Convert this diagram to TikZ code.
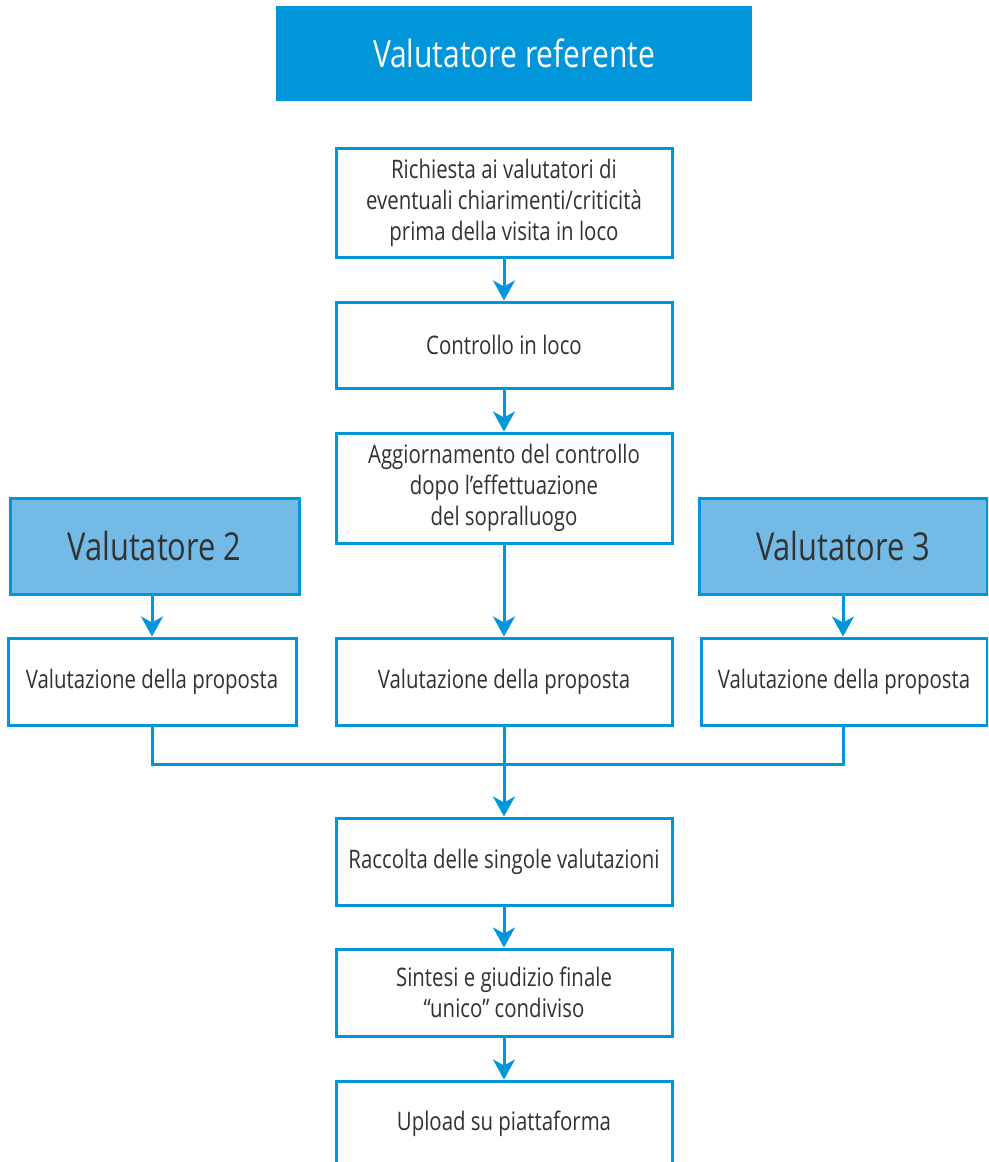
\documentclass[tikz,border=0pt]{standalone}
\usepackage{fontspec}
\setmainfont{Open Sans}[FakeStretch=0.80]
\usetikzlibrary{arrows.meta}
\definecolor{flowblue}{RGB}{0,150,217}
\definecolor{lightblue}{RGB}{115,187,230}
\definecolor{inkgray}{RGB}{50,50,50}
\tikzset{
  stepbox/.style={draw=flowblue, line width=3pt, fill=white, rectangle,
    inner sep=0pt, align=center, text=inkgray,
    font=\fontsize{25.5}{31}\selectfont},
  rolebox/.style={draw=flowblue, line width=3pt, fill=lightblue, rectangle,
    inner sep=0pt, align=center, text=inkgray,
    font=\fontsize{38.5}{46}\selectfont},
  headbox/.style={fill=flowblue, rectangle, inner sep=0pt, align=center,
    text=white, font=\fontsize{37.5}{46}\selectfont},
  flow/.style={draw=flowblue, line width=3pt,
    -{Stealth[length=20pt, width=22pt, inset=6pt]}},
  joinline/.style={draw=flowblue, line width=3pt}
}
\begin{document}
\begin{tikzpicture}[x=1pt, y=-1pt]
\useasboundingbox (0,0) rectangle (988,1162);
\clip (0,0) rectangle (988,1162);

% header
\node[headbox, minimum width=476pt, minimum height=95pt] (ref) at (514,53.5) {Valutatore referente};

% central column
\node[stepbox, minimum width=336pt, minimum height=109pt] (req) at (504,202.5)
  {Richiesta ai valutatori di\\eventuali chiarimenti/criticità\\prima della visita in loco};
\node[stepbox, minimum width=336pt, minimum height=86pt] (ctl) at (504,345) {Controllo in loco};
\node[stepbox, minimum width=336pt, minimum height=110pt] (upd) at (504,488)
  {Aggiornamento del controllo\\dopo l’effettuazione\\del sopralluogo};
\node[stepbox, minimum width=336pt, minimum height=87pt] (evc) at (504,681.5) {Valutazione della proposta};

% side evaluators
\node[rolebox, minimum width=289pt, minimum height=96pt] (v2) at (154.5,546) {Valutatore 2};
\node[rolebox, minimum width=288pt, minimum height=96pt] (v3) at (843,546) {Valutatore 3};
\node[stepbox, minimum width=288pt, minimum height=87pt] (evl) at (152,681.5) {Valutazione della proposta};
\node[stepbox, minimum width=286pt, minimum height=87pt] (evr) at (844,681.5) {Valutazione della proposta};

% lower column
\node[stepbox, minimum width=336pt, minimum height=87pt] (col) at (504,861.5) {Raccolta delle singole valutazioni};
\node[stepbox, minimum width=336pt, minimum height=87pt] (syn) at (504,992.5)
  {Sintesi e giudizio finale\\“unico” condiviso};
\node[stepbox, minimum width=336pt, minimum height=90pt] (upl) at (504,1126) {};
\node[text=inkgray, font=\fontsize{25.5}{31}\selectfont] (upltext) at (504,1124) {Upload su piattaforma};

% merge point
\coordinate (merge) at (504,764);

% connectors
\draw[flow] (req) -- (ctl);
\draw[flow] (ctl) -- (upd);
\draw[flow] (upd) -- (evc);
\draw[flow] (v2.south -| evl.north) -- (evl.north);
\draw[flow] (v3) -- (evr.north -| v3.south);
\draw[joinline] (evl.south) |- (merge);
\draw[joinline] (evr.south -| v3.south) |- (merge);
\draw[flow] (evc.south) -- (col.north);
\draw[flow] (col) -- (syn);
\draw[flow] (syn) -- (upl);
\end{tikzpicture}
\end{document}
